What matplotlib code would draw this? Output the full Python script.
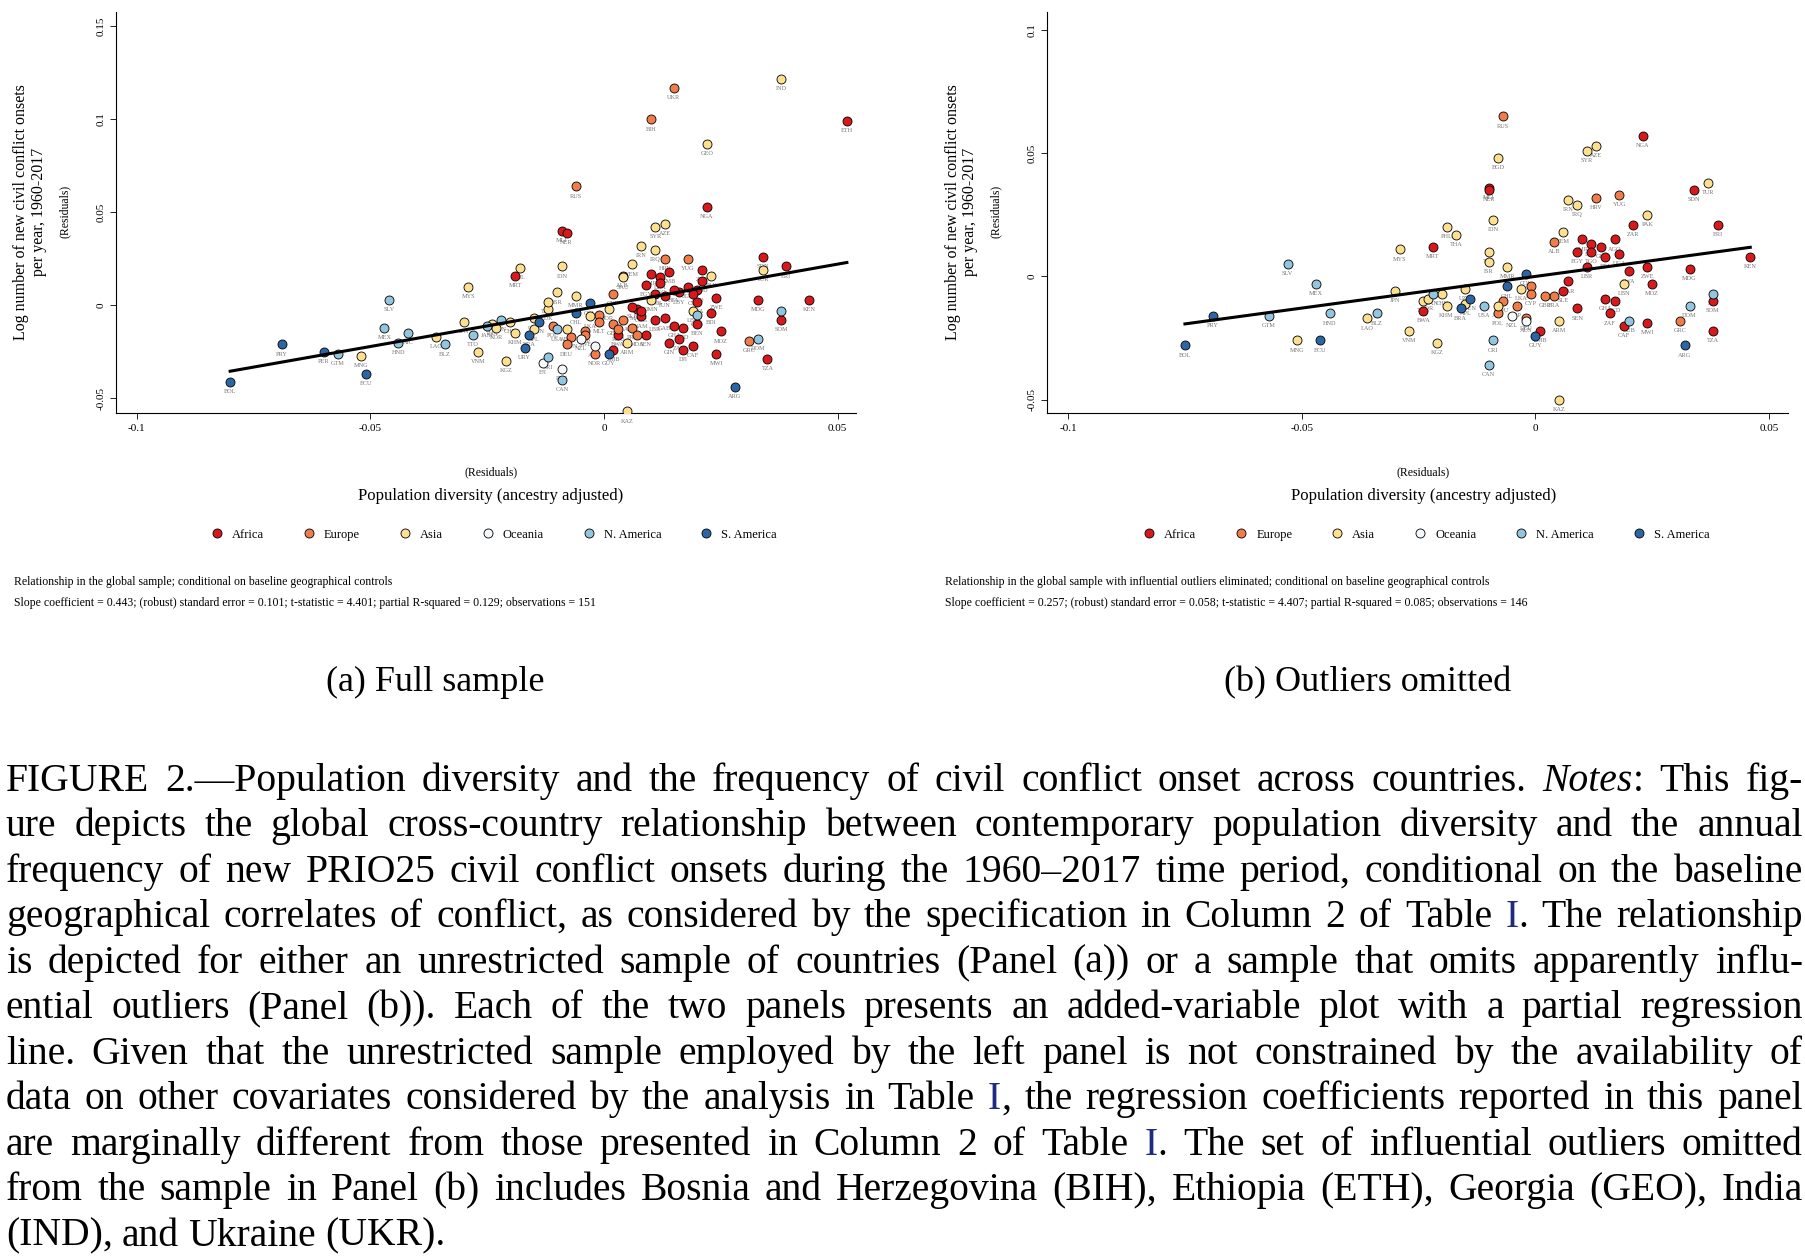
import matplotlib
matplotlib.use("Agg")
import matplotlib.pyplot as plt
import numpy as np
from matplotlib.lines import Line2D

# ---------------- data ----------------
regions = ["Africa", "Europe", "Asia", "Oceania", "N. America", "S. America"]
region_colors = ["#d7191c", "#f07c4a", "#fde08f", "#f4f8fb", "#92c5de", "#2b65a6"]

# Panel (a): full sample
a_codes = ["BOL","PRY","PER","GTM","ECU","MNG","SLV","HND","MEX","NIC","LAO","BLZ","MYS","VNM","KGZ",
           "PHL","MRT","ISR","TJK","AFG","MLI","NER","IDN","CRI","CAN","ZMB","GUY","RUS","BIH","UKR",
           "GEO","IND","ETH","NGA","AZE","SYR","HRV","YUG","ZAR","PAK","SDN","TUR","ERI","KEN","SOM",
           "HTI","MDG","MOZ","MWI","ARG","GRC","DOM","TZA","KAZ","CUB","AGO","IRN","IRQ","LBN","COL",
           "VEN","BRA","CHL","USA","FRA","ESP","GBR","ITA","PRT","CHN","THA","MMR","NPL","LKA","EGY",
           "DZA","MAR","TUN","LBY","UGA","RWA","BDI","CMR","TCD","SEN","GIN","SLE","LBR","CIV","GHA",
           "TGO","BEN","ZWE","ZAF","NAM","BWA","AUS","NZL","PNG","FJI","PAN","JAM","TTO","URY","KHM",
           "KOR","JPN","SAU","YEM","OMN","JOR","ROU","HUN","POL","DEU","SWE","NOR","UZB","TKM","MDA",
           "ARM","BFA","GAB","COG","CAF","SSD","DJI","GNB","GMB","MLT","CYP","ALB"]
a_x = [-0.080,-0.069,-0.060,-0.057,-0.051,-0.052,-0.046,-0.044,-0.047,-0.042,-0.036,-0.034,-0.029,-0.027,-0.021,
       -0.018,-0.019,-0.010,-0.012,-0.008,-0.009,-0.008,-0.009,-0.012,-0.009,0.002,0.001,-0.006,0.010,0.015,
       0.022,0.038,0.052,0.022,0.013,0.011,0.013,0.018,0.021,0.023,0.034,0.034,0.039,0.044,0.038,
       0.038,0.033,0.025,0.024,0.028,0.031,0.033,0.035,0.005,0.020,0.020,0.008,0.011,0.019,-0.003,
       -0.014,-0.016,-0.006,-0.010,0.004,-0.004,0.002,-0.001,0.006,-0.020,-0.024,-0.006,-0.015,-0.003,0.009,
       0.012,0.007,0.013,0.016,0.018,0.020,0.023,0.010,0.017,0.009,0.014,0.006,0.011,0.019,0.015,
       0.012,0.020,0.024,0.016,0.008,0.003,-0.002,-0.005,-0.009,-0.013,-0.022,-0.025,-0.028,-0.017,-0.019,
       -0.023,-0.030,0.004,0.006,0.010,0.001,0.003,-0.007,-0.011,-0.008,-0.004,-0.002,-0.015,-0.012,0.007,
       0.005,0.015,0.013,0.008,0.019,0.021,0.017,0.011,0.014,-0.001,0.002,0.004]
a_y = [-0.041,-0.021,-0.025,-0.026,-0.037,-0.027,0.003,-0.020,-0.012,-0.015,-0.017,-0.021,0.010,-0.025,-0.030,
       0.020,0.016,0.007,-0.002,-0.013,0.040,0.039,0.021,-0.028,-0.040,-0.024,-0.026,0.064,0.100,0.117,
       0.087,0.122,0.099,0.053,0.044,0.042,0.025,0.025,0.019,0.016,0.026,0.019,0.021,0.003,-0.008,
       -0.003,0.003,-0.014,-0.026,-0.044,-0.019,-0.018,-0.029,-0.057,-0.005,0.008,0.032,0.030,-0.003,0.001,
       -0.009,-0.016,-0.004,-0.013,-0.008,-0.014,-0.010,-0.005,-0.012,-0.009,-0.010,0.005,-0.013,-0.006,0.011,
       0.015,-0.002,0.005,0.007,0.010,0.002,-0.004,0.017,-0.012,-0.016,-0.020,-0.001,-0.008,0.006,-0.011,
       0.012,-0.010,0.004,-0.018,-0.006,-0.016,-0.022,-0.018,-0.034,-0.031,-0.008,-0.011,-0.016,-0.023,-0.015,
       -0.012,-0.009,0.015,0.022,0.003,-0.002,-0.013,-0.017,-0.011,-0.021,-0.016,-0.026,-0.007,0.002,-0.016,
       -0.020,0.008,-0.007,-0.003,-0.022,0.013,-0.024,0.006,0.018,-0.009,0.006,0.016]
a_reg = [5,5,5,4,5,2,4,4,4,4,2,4,2,2,2,
         2,0,2,2,2,0,0,2,4,4,0,5,1,1,1,
         2,2,0,0,2,2,1,1,0,2,0,2,0,0,0,
         4,0,0,0,5,1,4,0,2,4,0,2,2,2,5,
         5,5,5,4,1,1,1,1,1,2,2,2,2,2,0,
         0,0,0,0,0,0,0,0,0,0,0,0,0,0,0,
         0,0,0,0,0,0,3,3,3,3,4,4,4,5,2,
         2,2,2,2,2,2,1,1,1,1,1,1,2,2,1,
         2,0,0,0,0,0,0,0,0,1,1,1]
a_slope = 0.443

# Panel (b): outliers (BIH, ETH, GEO, IND, UKR) omitted
b_codes = ["BOL","PRY","GTM","MNG","ECU","MEX","SLV","HND","LAO","BLZ","MYS","VNM","KGZ","PHL","MRT",
           "RUS","BGD","MLI","NER","TJK","CRI","CAN","SYR","AZE","NGA","YUG","HRV","PAK","ZAR","SDN",
           "TUR","ERI","KEN","SOM","HTI","MDG","MOZ","MWI","ARG","GRC","DOM","TZA","KAZ","CUB","ZMB",
           "GUY","AGO","IRN","IRQ","LBN","COL","VEN","BRA","CHL","USA","FRA","ESP","GBR","ITA","CHN",
           "THA","MMR","NPL","EGY","DZA","MAR","UGA","RWA","CMR","TCD","SEN","GHA","ZWE","ZAF","AUS",
           "NZL","PAN","KHM","KOR","YEM","ROU","POL","DEU","UZB","ARM","BFA","CAF","CYP","ALB","BWA",
           "JPN","THA","IDN","AFG","ISR","LKA","SLE","LBR","GIN","TGO"]
b_x = [-0.075,-0.069,-0.057,-0.051,-0.046,-0.047,-0.053,-0.044,-0.036,-0.034,-0.029,-0.027,-0.021,-0.019,-0.022,
       -0.007,-0.008,-0.010,-0.010,-0.010,-0.009,-0.010,0.011,0.013,0.023,0.018,0.013,0.024,0.021,0.034,
       0.037,0.039,0.046,0.038,0.038,0.033,0.025,0.024,0.032,0.031,0.033,0.038,0.005,0.020,0.001,
       0.000,0.017,0.007,0.009,0.019,-0.002,-0.014,-0.016,-0.006,-0.011,0.004,-0.004,0.002,-0.001,-0.020,
       -0.024,-0.006,-0.015,0.009,0.012,0.007,0.018,0.020,0.010,0.017,0.009,0.015,0.024,0.016,-0.002,
       -0.005,-0.022,-0.019,-0.023,0.006,-0.007,-0.008,-0.002,-0.015,0.005,0.015,0.019,-0.001,0.004,-0.024,
       -0.030,-0.017,-0.009,-0.008,-0.010,-0.003,0.006,0.011,0.014,0.012]
b_y = [-0.028,-0.016,-0.016,-0.026,-0.026,-0.003,0.005,-0.015,-0.017,-0.015,0.011,-0.022,-0.027,0.020,0.012,
       0.065,0.048,0.036,0.035,0.010,-0.026,-0.036,0.051,0.053,0.057,0.033,0.032,0.025,0.021,0.035,
       0.038,0.021,0.008,-0.010,-0.007,0.003,-0.003,-0.019,-0.028,-0.018,-0.012,-0.022,-0.050,-0.018,-0.022,
       -0.024,0.015,0.031,0.029,-0.003,0.001,-0.009,-0.013,-0.004,-0.012,-0.008,-0.012,-0.008,-0.004,-0.007,
       -0.010,0.004,-0.011,0.010,0.013,-0.002,0.009,0.002,0.015,-0.010,-0.013,-0.009,0.004,-0.015,-0.018,
       -0.016,-0.007,-0.012,-0.009,0.018,-0.010,-0.015,-0.017,-0.005,-0.018,0.008,-0.020,-0.007,0.014,-0.014,
       -0.006,0.017,0.023,-0.012,0.006,-0.005,-0.006,0.004,0.012,0.010]
b_reg = [5,5,4,2,5,4,4,4,2,4,2,2,2,2,0,
         1,2,0,0,2,4,4,2,2,0,1,1,2,0,0,
         2,0,0,0,4,0,0,0,5,1,4,0,2,4,0,
         5,0,2,2,2,5,5,5,5,4,1,1,1,1,2,
         2,2,2,0,0,0,0,0,0,0,0,0,0,0,3,
         3,4,2,2,2,1,1,1,2,2,0,0,1,1,0,
         2,2,2,2,2,2,0,0,0,0]
b_slope = 0.257

notes_a = ["Relationship in the global sample; conditional on baseline geographical controls",
           "Slope coefficient = 0.443; (robust) standard error = 0.101; t-statistic = 4.401; partial R-squared = 0.129; observations = 151"]
notes_b = ["Relationship in the global sample with influential outliers eliminated; conditional on baseline geographical controls",
           "Slope coefficient = 0.257; (robust) standard error = 0.058; t-statistic = 4.407; partial R-squared = 0.085; observations = 146"]

# ---------------- figure ----------------
SERIF = ["Liberation Serif", "DejaVu Serif"]
plt.rcParams["font.family"] = SERIF
W, H = 1560.0, 1087.0
fig = plt.figure(figsize=(18.05, 12.58), dpi=100)

def fx(px): return px / W
def fy(py): return 1 - py / H

def panel(left_px, right_px, x, y, codes, reg, slope, ylim, yticks, yticklabels):
    ax = fig.add_axes([fx(left_px), fy(357), fx(right_px - left_px), fy(10) - fy(357)])
    ax.set_xlim(-0.1045, 0.054)
    ax.set_ylim(*ylim)
    for s in ["top", "right"]:
        ax.spines[s].set_visible(False)
    for s in ["left", "bottom"]:
        ax.spines[s].set_linewidth(0.8)
    ax.set_xticks([-0.1, -0.05, 0, 0.05])
    ax.set_xticklabels(["-0.1", "-0.05", "0", "0.05"], fontsize=8)
    ax.set_yticks(yticks)
    ax.set_yticklabels(yticklabels, fontsize=8, rotation=90, va="center")
    ax.tick_params(length=4, width=0.6)
    x = np.array(x); y = np.array(y); reg = np.array(reg)
    for i, col in enumerate(region_colors):
        m = reg == i
        ax.scatter(x[m], y[m], s=42, c=col, edgecolors="black", linewidths=0.6, zorder=3)
    for xi, yi, c in zip(x, y, codes):
        ax.text(xi, yi - (ylim[1] - ylim[0]) * 0.018, c, fontsize=4.5, color="#777777",
                ha="center", va="top", zorder=2)
    xx = np.array([x.min(), x.max()])
    ax.plot(xx, slope * xx, color="black", lw=2.2, zorder=4)
    return ax

axA = panel(100, 740, a_x, a_y, a_codes, a_reg, a_slope, (-0.058, 0.158),
            [-0.05, 0, 0.05, 0.1, 0.15], ["-0.05", "0", "0.05", "0.1", "0.15"])
axB = panel(905, 1545, b_x, b_y, b_codes, b_reg, b_slope, (-0.0555, 0.1075),
            [-0.05, 0, 0.05, 0.1], ["-0.05", "0", "0.05", "0.1"])

for cx, lx, notes, sub in [(424, 12, notes_a, "(a) Full sample"), (1230, 817, notes_b, "(b) Outliers omitted")]:
    fig.text(fx(cx), fy(408), "(Residuals)", fontsize=8.5, ha="center", va="center")
    fig.text(fx(cx), fy(429), "Population diversity (ancestry adjusted)", fontsize=12, ha="center", va="center")
    handles = [Line2D([], [], ls="", marker="o", markersize=6.5, markerfacecolor=c,
                      markeredgecolor="black", markeredgewidth=0.6) for c in region_colors]
    fig.legend(handles, regions, loc="center", bbox_to_anchor=(fx(cx), fy(462)), ncol=6,
               frameon=False, fontsize=9, handletextpad=0.2, columnspacing=2.6)
    fig.text(fx(lx), fy(503), notes[0], fontsize=8.5, va="center")
    fig.text(fx(lx), fy(521), notes[1], fontsize=8.5, va="center")
    fig.text(fx(cx - 48), fy(590), sub, fontsize=26, ha="center", va="center")

for lx in [18, 823]:
    fig.text(fx(lx + 8), fy(183), "Log number of new civil conflict onsets\nper year, 1960-2017",
             fontsize=11.5, rotation=90, ha="center", va="center", linespacing=1.1)
    fig.text(fx(lx + 38), fy(183), "(Residuals)", fontsize=8.5, rotation=90, ha="center", va="center")

# ---------------- caption (justified) ----------------
caption = [
    ("FIGURE 2.—Population diversity and the frequency of civil conflict onset across countries. *Notes*: This fig-", True),
    ("ure depicts the global cross-country relationship between contemporary population diversity and the annual", True),
    ("frequency of new PRIO25 civil conflict onsets during the 1960–2017 time period, conditional on the baseline", True),
    ("geographical correlates of conflict, as considered by the specification in Column 2 of Table #I#. The relationship", True),
    ("is depicted for either an unrestricted sample of countries (Panel (a)) or a sample that omits apparently influ-", True),
    ("ential outliers (Panel (b)). Each of the two panels presents an added-variable plot with a partial regression", True),
    ("line. Given that the unrestricted sample employed by the left panel is not constrained by the availability of", True),
    ("data on other covariates considered by the analysis in Table #I#, the regression coefficients reported in this panel", True),
    ("are marginally different from those presented in Column 2 of Table #I#. The set of influential outliers omitted", True),
    ("from the sample in Panel (b) includes Bosnia and Herzegovina (BIH), Ethiopia (ETH), Georgia (GEO), India", True),
    ("(IND), and Ukraine (UKR).", False),
]
CAP_FS = 28.5
fig.canvas.draw()
r = fig.canvas.get_renderer()
x0, x1 = 5, 1558
for li, (line, just) in enumerate(caption):
    yy = fy(675 + li * 39.3)
    words = line.split(" ")
    arts = []
    for w in words:
        if "*" in w:
            segs = [(w.replace("*", "").rstrip(":"), "italic", "black"), (":", "normal", "black")]
        elif "#" in w:
            pre, mid, post = w.split("#")
            segs = [(pre, "normal", "black"), (mid, "normal", "#1f2a80"), (post, "normal", "black")]
        else:
            segs = [(w, "normal", "black")]
        sa = []
        for s, st, co in segs:
            if s == "":
                continue
            sa.append(fig.text(0, yy, s, fontsize=CAP_FS, style=st, color=co, va="center", family=SERIF))
        arts.append(sa)
    widths = [[t.get_window_extent(r).width for t in sa] for sa in arts]
    total_px = sum(sum(ws) for ws in widths)
    avail = (x1 - x0) / W * fig.bbox.width
    space = fig.bbox.width * 8.0 / W
    if just and len(arts) > 1:
        space = max((avail - total_px) / (len(arts) - 1), 3.0)
    cur = x0 / W * fig.bbox.width
    for sa, ws in zip(arts, widths):
        for t, w in zip(sa, ws):
            t.set_x(cur / fig.bbox.width)
            cur += w
        cur += space

fig.savefig("out.png", dpi=100)
